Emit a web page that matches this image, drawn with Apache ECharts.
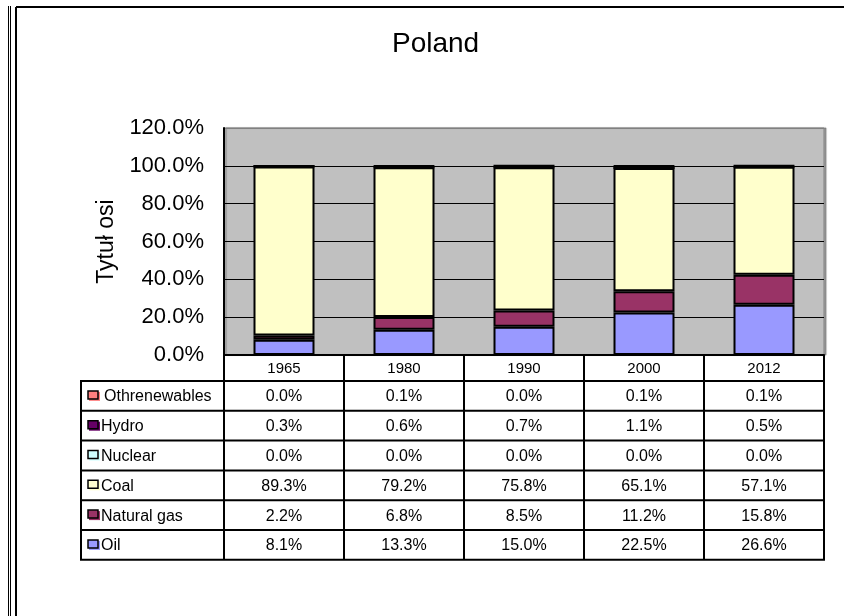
<!DOCTYPE html>
<html>
<head>
<meta charset="utf-8">
<script src="https://cdn.jsdelivr.net/npm/echarts@6/dist/echarts.min.js"></script>
<style>
  html, body { margin: 0; padding: 0; background: #fff; }
  #main { width: 844px; height: 616px; }
</style>
</head>
<body>
<div id="main"></div>
<script>
  const years = ['1965', '1980', '1990', '2000', '2012'];
  const oil = [8.1, 13.3, 15.0, 22.5, 26.6];
  const naturalGas = [2.2, 6.8, 8.5, 11.2, 15.8];
  const coal = [89.3, 79.2, 75.8, 65.1, 57.1];
  const nuclear = [0.0, 0.0, 0.0, 0.0, 0.0];
  const hydro = [0.3, 0.6, 0.7, 1.1, 0.5];
  const otherRenewables = [0.0, 0.1, 0.0, 0.1, 0.1];
  const yTicks = [0, 20, 40, 60, 80, 100, 120];

  // stacking order, bottom first
  const seriesDefs = [
    { name: 'Oil', data: oil, color: '#9999FF' },
    { name: 'Natural gas', data: naturalGas, color: '#993366' },
    { name: 'Coal', data: coal, color: '#FFFFCC' },
    { name: 'Nuclear', data: nuclear, color: '#CCFFFF' },
    { name: 'Hydro', data: hydro, color: '#660066' },
    { name: 'Othrenewables', data: otherRenewables, color: '#FF8080' },
  ];

  const FONT = 'Liberation Sans, Arial, sans-serif';
  const chartDom = document.getElementById('main');
  const myChart = echarts.init(chartDom, null, { renderer: 'canvas' });

  const option = {
    animation: false,
    backgroundColor: '#fff',
    title: {
      text: 'Poland',
      left: 392,
      top: 30,
      padding: 0,
      textStyle: { fontFamily: FONT, fontSize: 28, fontWeight: 'normal', color: '#000' },
    },
    grid: {
      left: 224,
      top: 128,
      width: 600,
      height: 227,
      show: true,
      backgroundColor: '#C0C0C0',
      borderColor: '#808080',
      borderWidth: 1,
      shadowColor: 'rgba(0,0,0,0.35)',
      shadowOffsetX: 2,
      shadowOffsetY: 0,
      shadowBlur: 1,
    },
    xAxis: {
      type: 'category',
      data: years,
      axisLine: { lineStyle: { color: '#000', width: 2 } },
      axisTick: { show: false },
      axisLabel: { fontFamily: FONT, fontSize: 15, color: '#000', margin: 6 },
    },
    yAxis: {
      type: 'value',
      min: yTicks[0],
      max: yTicks[yTicks.length - 1],
      interval: 20,
      name: 'Tytuł osi',
      nameLocation: 'middle',
      nameGap: 106,
      nameTextStyle: { fontFamily: FONT, fontSize: 23, color: '#000' },
      axisLine: { show: true, lineStyle: { color: '#000', width: 2 } },
      axisTick: { show: false },
      axisLabel: {
        fontFamily: FONT, fontSize: 22, color: '#000', margin: 20,
        formatter: (v) => v.toFixed(1) + '%',
      },
      splitLine: {
        show: true,
        lineStyle: { color: ['#000', '#000', '#000', '#000', '#000', '#000', '#808080'], width: 1.2 },
      },
    },
    series: seriesDefs.map((s) => ({
      name: s.name,
      type: 'bar',
      stack: 'total',
      barWidth: 61,
      data: s.data,
      itemStyle: { color: s.color, borderColor: '#000', borderWidth: 2 },
    })),
  };

  myChart.setOption(option);

  // data table under the plot, laid out from the category axis
  const buildTable = () => {
    const graphics = [];
    const lineStyle = { stroke: '#000', lineWidth: 2 };
    const line = (x1, y1, x2, y2, style) =>
      graphics.push({ type: 'line', shape: { x1, y1, x2, y2 }, style: style || lineStyle, silent: true });

    const centers = years.map((y) => myChart.convertToPixel({ xAxisIndex: 0 }, y));
    const half = (centers[1] - centers[0]) / 2;
    const plotLeft = centers[0] - half;
    const plotRight = centers[centers.length - 1] + half;
    const headTop = myChart.convertToPixel({ yAxisIndex: 0 }, 0);
    const bodyTop = headTop + 26;
    const tableLeft = 81;
    const rowH = 29.8;
    const rows = seriesDefs.slice().reverse();
    const bodyBottom = bodyTop + rowH * rows.length;

    // vertical lines
    line(tableLeft, bodyTop, tableLeft, bodyBottom);
    line(plotLeft, headTop, plotLeft, bodyBottom);
    centers.forEach((c) => line(c + half, headTop, c + half, bodyBottom));
    // horizontal lines
    for (let i = 0; i <= rows.length; i++) {
      line(tableLeft - 1, bodyTop + i * rowH, plotRight + 1, bodyTop + i * rowH);
    }

    rows.forEach((s, i) => {
      const cy = bodyTop + i * rowH + rowH / 2;
      // legend key
      graphics.push({ type: 'rect', shape: { x: 89, y: cy - 4, width: 11, height: 9 }, style: { fill: s.color }, silent: true });
      graphics.push({ type: 'rect', shape: { x: 88, y: cy - 5, width: 10, height: 8 }, style: { fill: s.color, stroke: '#000', lineWidth: 1.5 }, silent: true });
      graphics.push({
        type: 'text', x: s.name === 'Othrenewables' ? 104 : 101, y: cy + 1,
        style: { text: s.name, fontFamily: FONT, fontSize: 16, fill: '#000', verticalAlign: 'middle', align: 'left' },
        silent: true,
      });
      s.data.forEach((v, j) => {
        graphics.push({
          type: 'text', x: centers[j], y: cy + 1,
          style: { text: v.toFixed(1) + '%', fontFamily: FONT, fontSize: 16, fill: '#000', verticalAlign: 'middle', align: 'center' },
          silent: true,
        });
      });
    });

    // outer frame
    line(8.5, 6, 8.5, 616, { stroke: '#000', lineWidth: 1 });
    line(10.5, 6, 10.5, 616, { stroke: '#000', lineWidth: 1 });
    line(16, 7, 16, 616, { stroke: '#000', lineWidth: 2 });
    line(16, 7, 844, 7, { stroke: '#000', lineWidth: 2 });

    myChart.setOption({ graphic: graphics });
  };

  buildTable();
</script>
</body>
</html>
